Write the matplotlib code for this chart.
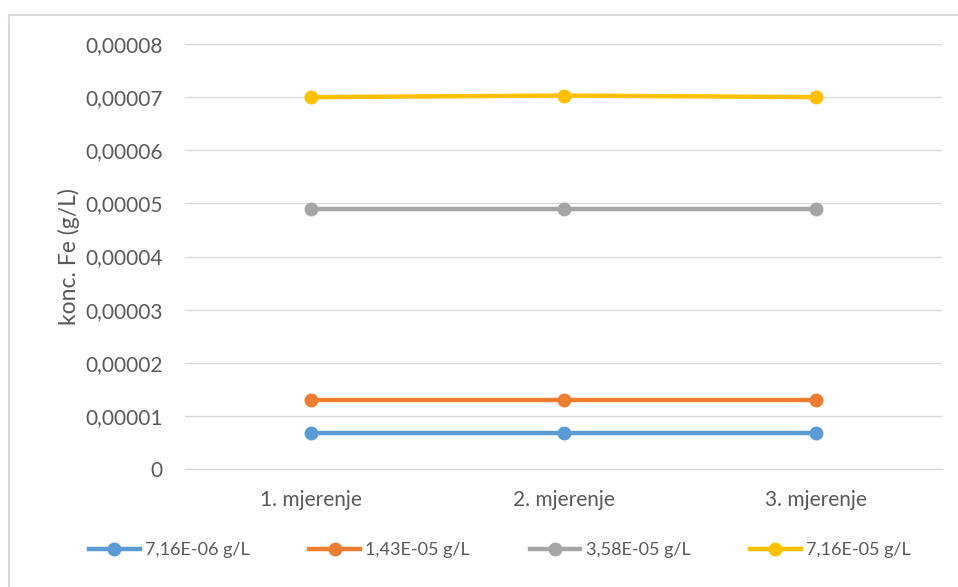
import matplotlib.pyplot as plt
from matplotlib.lines import Line2D
from matplotlib.ticker import FuncFormatter

# podaci
kategorije = ['1. mjerenje', '2. mjerenje', '3. mjerenje']
serije = ['7,16E-06 g/L', '1,43E-05 g/L', '3,58E-05 g/L', '7,16E-05 g/L']
vrijednosti_1 = [0.00000675, 0.00000675, 0.00000675]
vrijednosti_2 = [0.0000130, 0.0000130, 0.0000130]
vrijednosti_3 = [0.0000490, 0.0000490, 0.0000490]
vrijednosti_4 = [0.0000700, 0.0000703, 0.0000700]
boje = ['#5B9BD5', '#ED7D31', '#A5A5A5', '#FFC000']

plt.rcParams['font.family'] = ['Lato', 'DejaVu Sans']
tekst = '#595959'

fig = plt.figure(figsize=(9.58, 5.87), dpi=100)
W, H = 958, 587
ax = fig.add_axes([185 / W, 1 - 469 / H, (942 - 185) / W, (469 - 44) / H])

x = range(len(kategorije))
for vals, boja in zip([vrijednosti_1, vrijednosti_2, vrijednosti_3, vrijednosti_4], boje):
    ax.plot(x, vals, color=boja, lw=3.2, marker='o', markersize=9, solid_capstyle='round')

ax.set_xlim(-0.5, 2.5)
ax.set_ylim(0, 0.00008)
ax.set_yticks([i * 0.00001 for i in range(9)])
ax.yaxis.set_major_formatter(FuncFormatter(lambda v, p: '0' if v == 0 else f'{v:.5f}'.replace('.', ',')))
ax.set_xticks(list(x))
ax.set_xticklabels(kategorije)
ax.grid(axis='y', color='#D9D9D9', lw=1)
ax.set_axisbelow(True)
for s in ['top', 'right', 'left']:
    ax.spines[s].set_visible(False)
ax.spines['bottom'].set_color('#D9D9D9')
ax.tick_params(length=0, labelsize=15, colors=tekst)
ax.tick_params(axis='y', pad=16)
ax.tick_params(axis='x', pad=15)
ax.set_ylabel('konc. Fe (g/L)', fontsize=16.5, color=tekst, labelpad=4)

# okvir grafikona (lijevo i gore)
fig.add_artist(Line2D([9 / W, 9 / W], [0, 1 - 15 / H], color='#D9D9D9', lw=1.5))
fig.add_artist(Line2D([9 / W, 1], [1 - 15 / H, 1 - 15 / H], color='#D9D9D9', lw=1.5))

ruke = [Line2D([], [], color=b, lw=3.2, marker='o', markersize=9) for b in boje]
fig.legend(ruke, serije, loc='center', bbox_to_anchor=(500 / W, 1 - 550 / H), ncol=4,
           frameon=False, fontsize=13, labelcolor=tekst, handlelength=2.8,
           handletextpad=0.3, columnspacing=3.3)

fig.savefig('out.png', dpi=100)
